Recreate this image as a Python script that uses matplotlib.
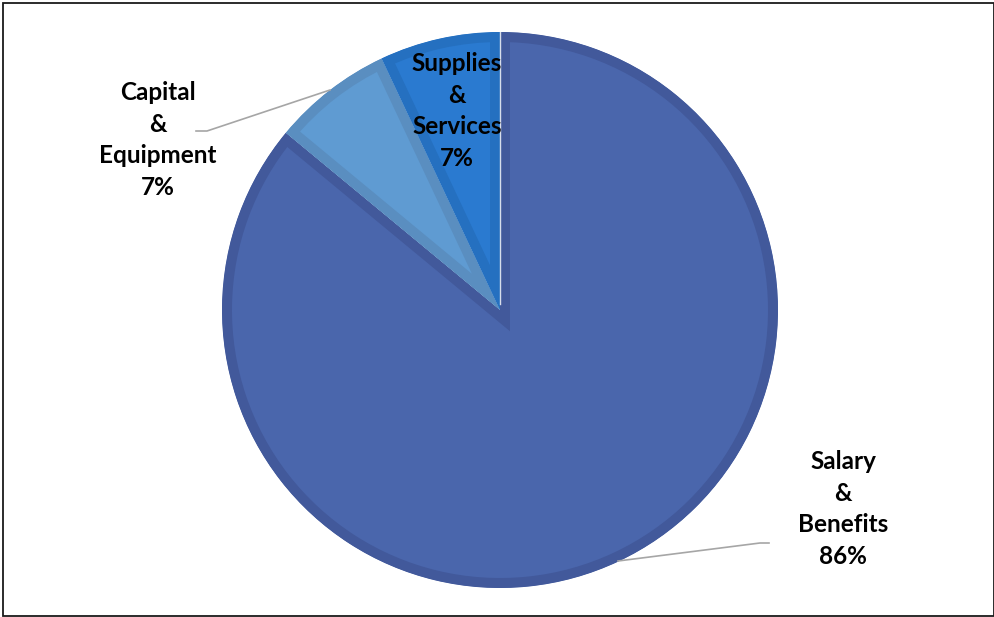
import matplotlib
matplotlib.use("Agg")
import matplotlib.pyplot as plt
from matplotlib.patches import Rectangle

categories = ["Salary\n&\nBenefits", "Capital\n&\nEquipment", "Supplies\n&\nServices"]
values = [86, 7, 7]
fill_colors = ["#4A66AC", "#5F9BD2", "#2A7AD0"]
edge_colors = ["#42599B", "#5A8EC0", "#2570C0"]

W, H = 995, 617
fig = plt.figure(figsize=(W / 100, H / 100), dpi=100)
fig.patch.set_facecolor("white")

cx, cy, r = 500, 310, 278
ax = fig.add_axes([(cx - r) / W, (H - cy - r) / H, 2 * r / W, 2 * r / H])

wedges, _ = ax.pie(values, colors=fill_colors, startangle=90, counterclock=False,
                   radius=1.0, center=(0, 0))
ax.set_xlim(-1, 1)
ax.set_ylim(-1, 1)
ax.set_aspect("equal")
ax.axis("off")

for w, ec in zip(wedges, edge_colors):
    w.set_edgecolor(ec)
    w.set_linewidth(14.4)
    w.set_clip_path(w)
    w.set_clip_on(True)

# thin white separator at 12 o'clock
ax.plot([0, 0], [0.02, 1], color="white", lw=1.0, alpha=0.8)

def px(x, y):
    return (x - cx) / r, (cy - y) / r

font = dict(family=["Lato", "DejaVu Sans"], fontweight="bold", fontsize=17.5,
            ha="center", va="center", linespacing=1.45, color="black")

pcts = [f"{v}%" for v in values]
label_pos = [(843, 509), (158, 140), (457, 111)]
for cat, pct, (lx, ly) in zip(categories, pcts, label_pos):
    ax.text(*px(lx, ly), f"{cat}\n{pct}", clip_on=False, **font)

# leader lines
lc = "#A6A6A6"
xs, ys = zip(px(196, 131), px(207, 131), px(330, 90))
ax.plot(xs, ys, color=lc, lw=1.2, clip_on=False)
xs, ys = zip(px(618, 561), px(760, 543), px(769, 543))
ax.plot(xs, ys, color=lc, lw=1.2, clip_on=False)

# outer frame
fig.patches.append(Rectangle((3 / W, 1 - 616 / H), 991 / W, 613 / H,
                             transform=fig.transFigure, fill=False,
                             edgecolor="#1a1a1a", lw=1.3))

fig.savefig("out.png", dpi=100, facecolor="white")
